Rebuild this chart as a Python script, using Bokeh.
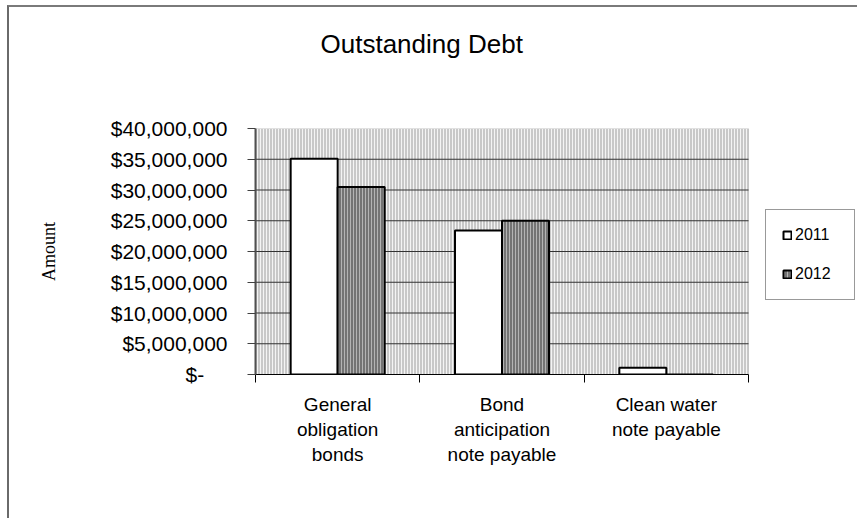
from bokeh.plotting import figure
from bokeh.models import (ColumnDataSource, FixedTicker, Legend, LegendItem, Title,
                          BoxAnnotation, InlineStyleSheet)
from bokeh.embed import file_html
from bokeh.resources import INLINE

# --- data -------------------------------------------------------------
categories = ["General obligation bonds",
              "Bond anticipation note payable",
              "Clean water note payable"]
category_labels = ["General\nobligation\nbonds",
                   "Bond\nanticipation\nnote payable",
                   "Clean water\nnote payable"]
years = ["2011", "2012"]
debt_2011 = [35_100_000, 23_400_000, 1_100_000]
debt_2012 = [30_500_000, 25_000_000, 0]

y_ticks = [0, 5_000_000, 10_000_000, 15_000_000, 20_000_000,
           25_000_000, 30_000_000, 35_000_000, 40_000_000]
y_tick_labels = ["$-\u00a0\u00a0\u00a0\u00a0", "$5,000,000", "$10,000,000", "$15,000,000",
                 "$20,000,000", "$25,000,000", "$30,000,000", "$35,000,000",
                 "$40,000,000"]

# --- layout -------------------------------------------------------------
W, H = 857, 518
LEFT, TOP, BOTTOM = 255, 128, 144
PLOT_PX = 493                      # width of the patterned plot area
n = len(categories)
# the frame runs to the right edge so the legend can sit beside the plot area
x_end = n * (W - LEFT) / PLOT_PX

centers = [i + 0.5 for i in range(n)]
bar_w = 0.286
boundaries = list(range(n + 1))

FONT = "Liberation Sans"

p = figure(width=W, height=H, x_range=(0, x_end), y_range=(y_ticks[0], y_ticks[-1]),
           output_backend="svg", toolbar_location=None, title=None,
           min_border_left=LEFT, min_border_right=0,
           min_border_top=TOP, min_border_bottom=BOTTOM)
p.background_fill_color = "white"
p.outline_line_color = None
p.xgrid.grid_line_color = None
p.ygrid.grid_line_color = None

# patterned plot area
p.add_layout(BoxAnnotation(left=0, right=n, bottom=y_ticks[0], top=y_ticks[-1],
                           fill_color="#c8c8c8", fill_alpha=1,
                           hatch_pattern="vertical_line", hatch_color="#f4f4f4",
                           hatch_scale=3, hatch_weight=1,
                           line_color="#808080", line_width=1, level="image"))

# horizontal gridlines across the plot area
p.segment(x0=[0] * (len(y_ticks) - 2), x1=[n] * (len(y_ticks) - 2),
          y0=y_ticks[1:-1], y1=y_ticks[1:-1], line_color="#333333", line_width=1)

# bars
src11 = ColumnDataSource(dict(x=[c - bar_w / 2 for c in centers], top=debt_2011))
src12 = ColumnDataSource(dict(x=[c + bar_w / 2 for c in centers], top=debt_2012))
r11 = p.vbar(x="x", top="top", width=bar_w, source=src11,
             fill_color="white", line_color="black", line_width=2)
r12 = p.vbar(x="x", top="top", width=bar_w, source=src12,
             fill_color="#747474", hatch_pattern="vertical_line",
             hatch_color="#b4b4b4", hatch_scale=3, hatch_weight=1,
             line_color="black", line_width=2)

# y axis
p.yaxis.ticker = FixedTicker(ticks=y_ticks, minor_ticks=[])
p.yaxis.major_label_overrides = dict(zip(y_ticks, y_tick_labels))
p.yaxis.major_label_text_font = FONT
p.yaxis.major_label_text_font_size = "21px"
p.yaxis.major_label_text_color = "black"
p.yaxis.major_label_standoff = 20
p.yaxis.major_tick_out = 8
p.yaxis.major_tick_in = 0
p.yaxis.major_tick_line_color = "#404040"
p.yaxis.axis_line_color = "#505050"
p.yaxis.axis_line_width = 2
p.yaxis.axis_label = "Amount"
p.yaxis.axis_label_text_font = "Liberation Serif"
p.yaxis.axis_label_text_font_style = "normal"
p.yaxis.axis_label_text_font_size = "18px"
p.yaxis.axis_label_text_color = "black"
p.yaxis.axis_label_standoff = 49

# x axis: labels at category centres, ticks at category boundaries
p.xaxis.bounds = (0, n)
p.xaxis.ticker = FixedTicker(ticks=centers, minor_ticks=boundaries)
p.xaxis.major_label_overrides = dict(zip(centers, category_labels))
p.xaxis.major_label_text_font = FONT
p.xaxis.major_label_text_font_size = "19px"
p.xaxis.major_label_text_color = "black"
p.xaxis.major_label_text_line_height = 1.2
p.xaxis.major_label_standoff = 11
p.xaxis.major_tick_line_color = None
p.xaxis.major_tick_out = 0
p.xaxis.major_tick_in = 0
p.xaxis.minor_tick_line_color = "black"
p.xaxis.minor_tick_out = 8
p.xaxis.minor_tick_in = 0
p.xaxis.axis_line_color = "black"
p.xaxis.axis_line_width = 1

# title, lifted away from the plot area by a blank spacer line
p.add_layout(Title(text=" ", text_font_size="48px"), "above")
p.add_layout(Title(text="Outstanding Debt", align="left", offset=65,
                   text_font=FONT, text_font_style="normal",
                   text_font_size="26px", text_color="black"), "above")

# legend to the right of the plot area
legend = Legend(items=[LegendItem(label=years[0], renderers=[r11]),
                       LegendItem(label=years[1], renderers=[r12])],
                location=(510, 74), orientation="vertical",
                padding=16, margin=0, spacing=21,
                glyph_width=10, glyph_height=10, label_standoff=3,
                label_width=43, label_text_font=FONT,
                label_text_font_size="16px", label_text_color="black",
                border_line_color="#333333", border_line_width=1,
                background_fill_color="white", background_fill_alpha=1)
p.add_layout(legend)

# chart-area frame (top and left edges)
p.stylesheets = [InlineStyleSheet(css="""
:host::after {
  content: ""; position: absolute; left: 7px; top: 5px; right: 0; bottom: 0;
  border-top: 2px solid #7a7a7a; border-left: 2px solid #6a6a6a;
  pointer-events: none;
}
""")]

open("out.html", "w").write(file_html(p, INLINE))
